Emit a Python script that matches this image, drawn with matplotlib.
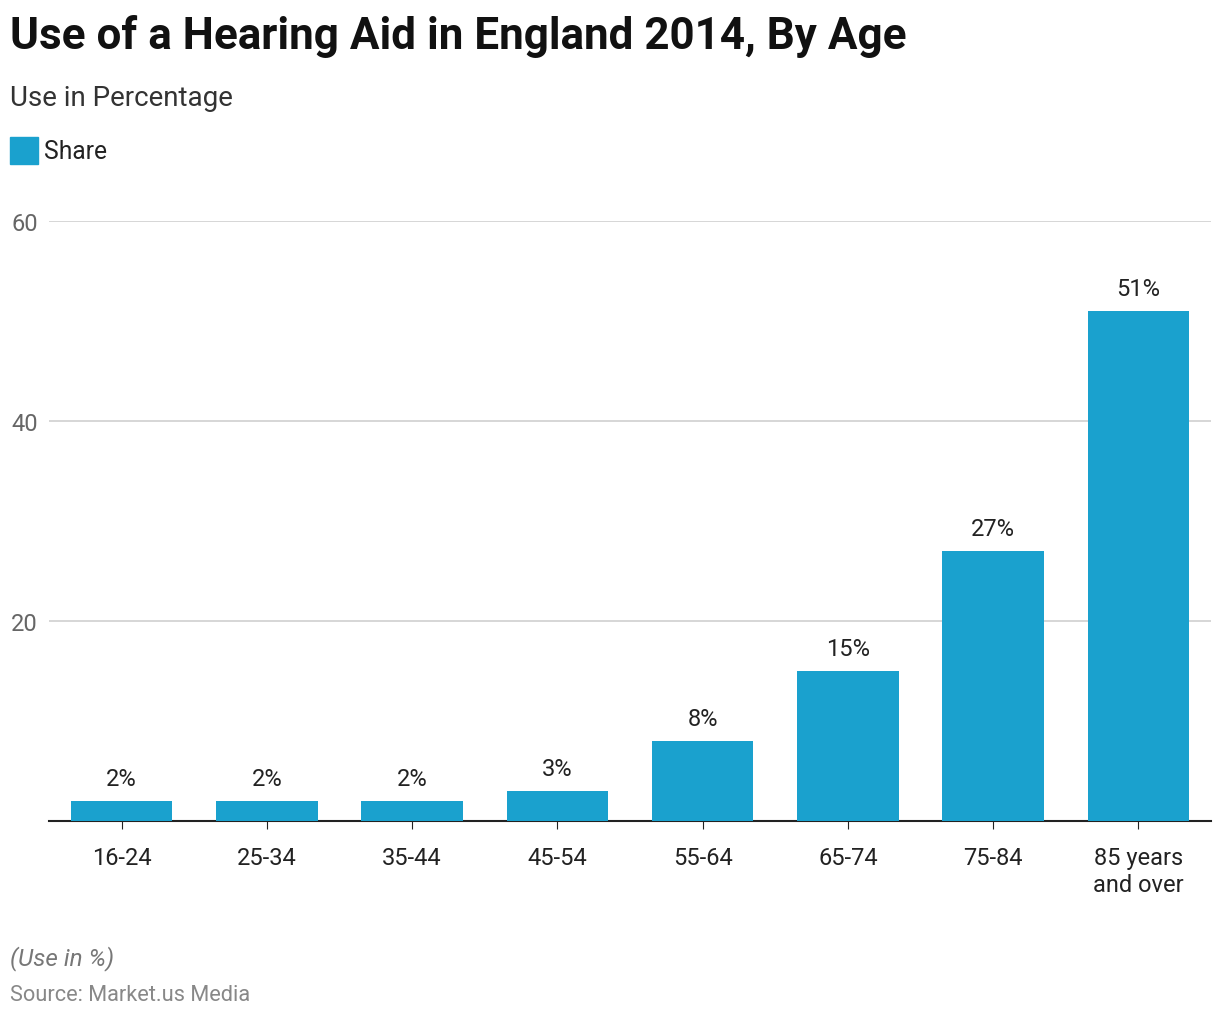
import matplotlib.pyplot as plt
from matplotlib.patches import Rectangle

plt.rcParams['font.family'] = ['Roboto', 'DejaVu Sans']

ages = ["16-24", "25-34", "35-44", "45-54", "55-64", "65-74", "75-84", "85 years\nand over"]
share = [2, 2, 2, 3, 8, 15, 27, 51]
yticks = [20, 40, 60]

bar_color = "#1aa1ce"
grid_color = "#d0d0d0"
tick_color = "#666666"

fig = plt.figure(figsize=(12.2, 10.2), dpi=100)
ax = fig.add_axes([49 / 1220, 1 - 822 / 1020, 1162 / 1220, 600 / 1020])

x = range(len(ages))
bars = ax.bar(x, share, width=0.7, color=bar_color, zorder=3)
for b, v in zip(bars, share):
    ax.annotate(f"{v}%", (b.get_x() + b.get_width() / 2, v), xytext=(0, 8),
                textcoords="offset points", ha="center", va="bottom",
                fontsize=17, color="#222222")

ax.set_xlim(-0.5, len(ages) - 0.5)
ax.set_ylim(0, 60)
ax.set_yticks(yticks)
ax.set_xticks(list(x))
ax.set_xticklabels(ages, fontsize=17, color="#222222", linespacing=1.25)
ax.tick_params(axis="x", length=6, color="#222222", pad=12)
ax.tick_params(axis="y", length=0, labelsize=17, labelcolor=tick_color, pad=8)
ax.grid(axis="y", color=grid_color, linewidth=1.2, zorder=0)
for s in ["top", "right", "left"]:
    ax.spines[s].set_visible(False)
ax.spines["bottom"].set_color("#222222")
ax.spines["bottom"].set_linewidth(1.5)

fig.text(10 / 1220, 1 - 37 / 1020, "Use of a Hearing Aid in England 2014, By Age",
         fontsize=31.7, fontweight="bold", va="center", ha="left", color="#111111")
fig.text(10 / 1220, 1 - 99 / 1020, "Use in Percentage", fontsize=20,
         va="center", ha="left", color="#333333")
fig.patches.append(Rectangle((10 / 1220, 1 - 165 / 1020), 28 / 1220, 27 / 1020,
                             transform=fig.transFigure, color=bar_color))
fig.text(44 / 1220, 1 - 152 / 1020, "Share", fontsize=17.7, va="center", ha="left",
         color="#222222")
fig.text(10 / 1220, 1 - 959 / 1020, "(Use in %)", fontsize=17.5, style="italic",
         va="center", ha="left", color="#777777")
fig.text(10 / 1220, 1 - 996 / 1020, "Source: Market.us Media", fontsize=15.7,
         va="center", ha="left", color="#888888")

fig.savefig("out.png", dpi=100)
